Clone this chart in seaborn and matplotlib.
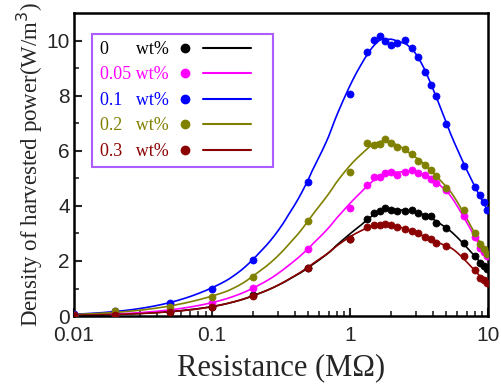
import numpy as np
import pandas as pd
import matplotlib
matplotlib.use("Agg")
import matplotlib.pyplot as plt
import seaborn as sns
from matplotlib.lines import Line2D
from matplotlib.legend_handler import HandlerBase

# resistance values (MOhm)
resistance = [0.01, 0.02, 0.05, 0.1, 0.2, 0.5, 1.0, 1.33, 1.5, 1.65, 1.8, 2.0,
              2.2, 2.5, 2.8, 3.1, 3.5, 3.9, 4.2, 5.0, 6.7, 8.1, 8.7, 9.3, 9.8]

# power density (W/m^3) for each loading
p_0 = [0.03, 0.06, 0.15, 0.34, 0.75, 1.75, 2.8, 3.53, 3.75, 3.82, 3.93, 3.85,
       3.82, 3.82, 3.85, 3.75, 3.64, 3.64, 3.38, 3.2, 2.65, 2.18, 1.93, 1.82, 1.71]
p_005 = [0.03, 0.08, 0.22, 0.47, 1.02, 2.44, 3.93, 4.76, 5.05, 5.05, 5.2, 5.24,
         5.13, 5.24, 5.3, 5.2, 5.13, 4.98, 4.84, 4.58, 3.64, 2.87, 2.47, 2.33, 2.18]
p_01 = [0.06, 0.2, 0.47, 1.0, 2.04, 4.85, 8.07, 9.6, 10.04, 10.18, 10.0, 9.85,
        9.9, 10.04, 9.75, 9.4, 8.87, 8.4, 8.0, 6.98, 5.45, 4.7, 4.4, 4.15, 3.85]
p_02 = [0.05, 0.18, 0.33, 0.7, 1.42, 3.45, 5.24, 6.29, 6.2, 6.25, 6.44, 6.29,
        6.15, 6.07, 5.9, 5.64, 5.5, 5.3, 5.1, 4.65, 3.85, 3.0, 2.6, 2.43, 2.25]
p_03 = [0.03, 0.05, 0.15, 0.34, 0.73, 1.75, 2.8, 3.24, 3.31, 3.31, 3.35, 3.31,
        3.24, 3.16, 3.09, 3.02, 2.87, 2.8, 2.65, 2.55, 2.18, 1.67, 1.38, 1.31, 1.2]

labels = ["0      wt%", "0.05 wt%", "0.1   wt%", "0.2   wt%", "0.3   wt%"]
colors = ["#000000", "#ff00ff", "#0000ff", "#808000", "#8b0000"]
series = [p_0, p_005, p_01, p_02, p_03]
SERIF = ["Liberation Serif", "DejaVu Serif"]


def loess_curve(x, y, xs, k=11):
    """local quadratic fit of log(y) against log(x), tricube weights"""
    u = np.log10(np.asarray(x))
    v = np.log(np.asarray(y))
    out = []
    for u0 in np.log10(xs):
        d = np.abs(u - u0)
        h = np.sort(d)[k - 1] * 1.05
        w = np.clip(1 - (d / h) ** 3, 0, None) ** 3
        A = np.vstack([np.ones_like(u), u - u0, (u - u0) ** 2]).T
        W = np.sqrt(w)[:, None]
        beta = np.linalg.lstsq(A * W, v * W[:, 0], rcond=None)[0]
        out.append(np.exp(beta[0]))
    return np.array(out)


class MarkerThenLine(HandlerBase):
    """legend key: marker first, then a short line segment"""
    def create_artists(self, legend, orig_handle, xdescent, ydescent,
                       width, height, fontsize, trans):
        col = orig_handle.get_color()
        y = height / 2 - ydescent
        x0 = -xdescent
        mk = Line2D([x0 + 0.08 * width], [y], ls="none", marker="o", ms=6,
                    color=col, transform=trans)
        ln = Line2D([x0 + 0.29 * width, x0 + 0.83 * width], [y, y],
                    color=col, lw=1.5, transform=trans)
        return [mk, ln]


sns.set_theme(style="white")
plt.rcParams["font.family"] = ["Liberation Sans", "DejaVu Sans"]

fig = plt.figure(figsize=(5.02, 3.85), dpi=100)
ax = fig.add_axes([0.147, 0.179, 0.825, 0.787])

xs = np.logspace(-2, 1, 300)

handles = []
for lab, col, vals in zip(labels, colors, series):
    df = pd.DataFrame({"R": resistance, "P": vals})
    ys = loess_curve(resistance, vals, xs)
    sns.lineplot(x=xs, y=ys, ax=ax, color=col, lw=1.2, zorder=2)
    sns.scatterplot(data=df, x="R", y="P", ax=ax, color=col, s=26,
                    edgecolor=col, linewidth=0.5, zorder=3)
    handles.append(Line2D([], [], color=col))

ax.set_xscale("log")
ax.set_xlim(0.01, 10)
ax.set_ylim(0, 11)
ax.set_yticks([0, 2, 4, 6, 8, 10])
ax.set_yticks([1, 3, 5, 7, 9], minor=True)
ax.set_xticks([0.01, 0.1, 1, 10])
ax.set_xticklabels(["0.01", "0.1", "1", "10"])
ax.tick_params(axis="both", which="major", direction="in", length=6, width=1.5,
               labelsize=15, top=False, right=False, bottom=True, left=True, pad=3)
ax.tick_params(axis="x", which="major", pad=7)
ax.tick_params(axis="both", which="minor", direction="in", length=3.5, width=1.2,
               top=False, right=False, bottom=True, left=True)
for s in ax.spines.values():
    s.set_linewidth(1.8)
    s.set_color("black")

ax.set_xlabel("Resistance (M\u03a9)", fontsize=22, family=SERIF, labelpad=6)
ax.set_ylabel("Density of harvested power(W/m$^3$)", fontsize=16.5,
              family=SERIF, labelpad=1)

leg = ax.legend(handles, labels, handler_map={Line2D: MarkerThenLine()},
                loc="upper left", bbox_to_anchor=(0.045, 0.932), markerfirst=False,
                handlelength=4.9, handletextpad=0.5, labelspacing=0.47,
                borderpad=0.4, borderaxespad=0, fancybox=False, frameon=True,
                prop={"family": SERIF, "size": 13})
leg.get_frame().set_edgecolor("#9933ff")
leg.get_frame().set_linewidth(1.5)
for t, col in zip(leg.get_texts(), colors):
    t.set_color(col)

fig.savefig("out.png", dpi=100)
